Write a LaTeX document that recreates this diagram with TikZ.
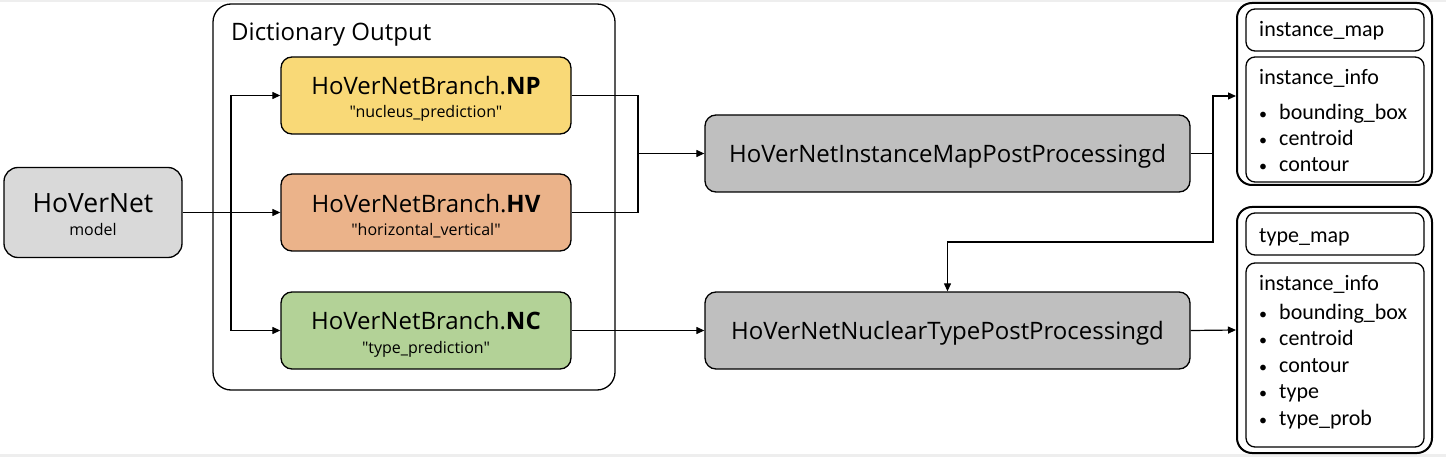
\documentclass[tikz,border=0pt]{standalone}
\usepackage{fontspec}
\setmainfont{Open Sans}
\newfontfamily\subfont{Open Sans}
\newfontfamily\calib{Carlito}
\usetikzlibrary{arrows.meta}
\definecolor{cgrey}{HTML}{D9D9D9}
\definecolor{cproc}{HTML}{BFBFBF}
\definecolor{cnp}{HTML}{F9D977}
\definecolor{chv}{HTML}{EBB38A}
\definecolor{cnc}{HTML}{B3D297}
\definecolor{cframe}{HTML}{EEEEEE}
\begin{document}
\begin{tikzpicture}[x=1pt,y=-1pt,
  boxbase/.style={draw=black, line width=1.3pt, inner sep=0pt},
  bigbox/.style={boxbase, rounded corners=14pt},
  midbox/.style={boxbase, rounded corners=11pt},
  smallbox/.style={boxbase, rounded corners=9pt},
  outbox/.style={draw=black, line width=2pt, inner sep=0pt, rounded corners=15pt},
  conn/.style={draw=black, line width=1.2pt},
  arr/.style={conn, -{Triangle[length=8pt,width=7pt]}},
  ttl/.style={inner sep=0pt, anchor=base, font=\fontsize{24}{28}\selectfont},
  sub/.style={inner sep=0pt, anchor=base, font=\subfont\fontsize{16}{19}\selectfont},
  rtxt/.style={inner sep=0pt, anchor=base west, font=\calib\fontsize{22}{26}\selectfont},
  bul/.style={inner sep=0pt, anchor=base west, font=\calib\fontsize{16}{26}\selectfont},
]
% background
\fill[cframe] (0,0) rectangle (1446,457);
\fill[white] (0,2) rectangle (1446,454);

% left model
\node[bigbox, fill=cgrey, minimum width=178pt, minimum height=90pt] (hov) at (93,212.5) {};
\node[inner sep=0pt, anchor=base, font=\fontsize{26.5}{30}\selectfont] (hovt) at (93,212.5) {HoVerNet};
\node[sub] (hovs) at (93,236) {model};

% dictionary output
\node[boxbase, rounded corners=18pt, minimum width=402pt, minimum height=386pt] (dict) at (414,197) {};
\node[inner sep=0pt, anchor=base west, font=\fontsize{24}{28}\selectfont] (dictt) at (231,40.5) {Dictionary Output};

\node[midbox, fill=cnp, minimum width=290pt, minimum height=77pt] (np) at (426,95.5) {};
\node[ttl] (npt) at (426,94.3) {HoVerNetBranch.\textbf{NP}};
\node[sub] (nps) at (426,118) {"nucleus\_prediction"};

\node[midbox, fill=chv, minimum width=290pt, minimum height=77pt] (hv) at (426,212.5) {};
\node[ttl] (hvt) at (426,212.3) {HoVerNetBranch.\textbf{HV}};
\node[sub] (hvs) at (426,236) {"horizontal\_vertical"};

\node[midbox, fill=cnc, minimum width=290pt, minimum height=77pt] (nc) at (426,330.5) {};
\node[ttl] (nct) at (426,329.3) {HoVerNetBranch.\textbf{NC}};
\node[sub] (ncs) at (426,353) {"type\_prediction"};

% post processing
\node[midbox, fill=cproc, minimum width=485pt, minimum height=77pt] (inst) at (947.5,153.5) {};
\node[ttl] (instt) at (947.5,162.5) {HoVerNetInstanceMapPostProcessingd};
\node[midbox, fill=cproc, minimum width=485pt, minimum height=77pt] (nuc) at (947.5,330.5) {};
\node[ttl] (nuct) at (947.5,339.5) {HoVerNetNuclearTypePostProcessingd};

% output 1
\node[outbox, minimum width=195pt, minimum height=182pt] (out1) at (1334.5,94) {};
\node[smallbox, minimum width=178pt, minimum height=42pt] (im) at (1335,30) {};
\node[rtxt] (imt) at (1259,36.7) {instance\_map};
\node[smallbox, minimum width=178pt, minimum height=125pt] (ii1) at (1335,119.5) {};
\node[rtxt] (ii1t) at (1259,85) {instance\_info};
\node[bul] (b1a) at (1259,119.5) {•};
\node[rtxt] (i1a) at (1279,119.5) {bounding\_box};
\node[bul] (b1b) at (1259,145.5) {•};
\node[rtxt] (i1b) at (1279,145.5) {centroid};
\node[bul] (b1c) at (1259,171.5) {•};
\node[rtxt] (i1c) at (1279,171.5) {contour};

% output 2
\node[outbox, minimum width=195pt, minimum height=246pt] (out2) at (1334.5,330) {};
\node[smallbox, minimum width=178pt, minimum height=42pt] (tm) at (1335,234) {};
\node[rtxt] (tmt) at (1259,242.7) {type\_map};
\node[smallbox, minimum width=178pt, minimum height=184pt] (ii2) at (1335,355) {};
\node[rtxt] (ii2t) at (1259,290.7) {instance\_info};
\node[bul] (b2a) at (1259,319) {•};
\node[rtxt] (i2a) at (1279,319) {bounding\_box};
\node[bul] (b2b) at (1259,345.5) {•};
\node[rtxt] (i2b) at (1279,345.5) {centroid};
\node[bul] (b2c) at (1259,372) {•};
\node[rtxt] (i2c) at (1279,372) {contour};
\node[bul] (b2d) at (1259,398.5) {•};
\node[rtxt] (i2d) at (1279,398.5) {type};
\node[bul] (b2e) at (1259,425) {•};
\node[rtxt] (i2e) at (1279,425) {type\_prob};

% connectors
\coordinate (j1) at (231,212.5);
\coordinate (j2) at (638,153.5);
\coordinate (j3) at (1213,153.5);
\coordinate (j4) at (1213,242);
\draw[arr] (hov.east) -- (hv.west);
\draw[arr] (j1) |- (np.west);
\draw[arr] (j1) |- (nc.west);
\draw[conn] (np.east) -| (j2);
\draw[conn] (hv.east) -| (j2);
\draw[arr] (j2) -- (inst.west);
\draw[arr] (nc.east) -- (nuc.west);
\draw[arr] (inst.east) -- (j3) |- ([yshift=-2pt]out1.west);
\draw[arr] (j3) -- (j4) -| (nuc.north);
\draw[arr] (nuc.east) -- (out2.west);
\end{tikzpicture}
\end{document}
